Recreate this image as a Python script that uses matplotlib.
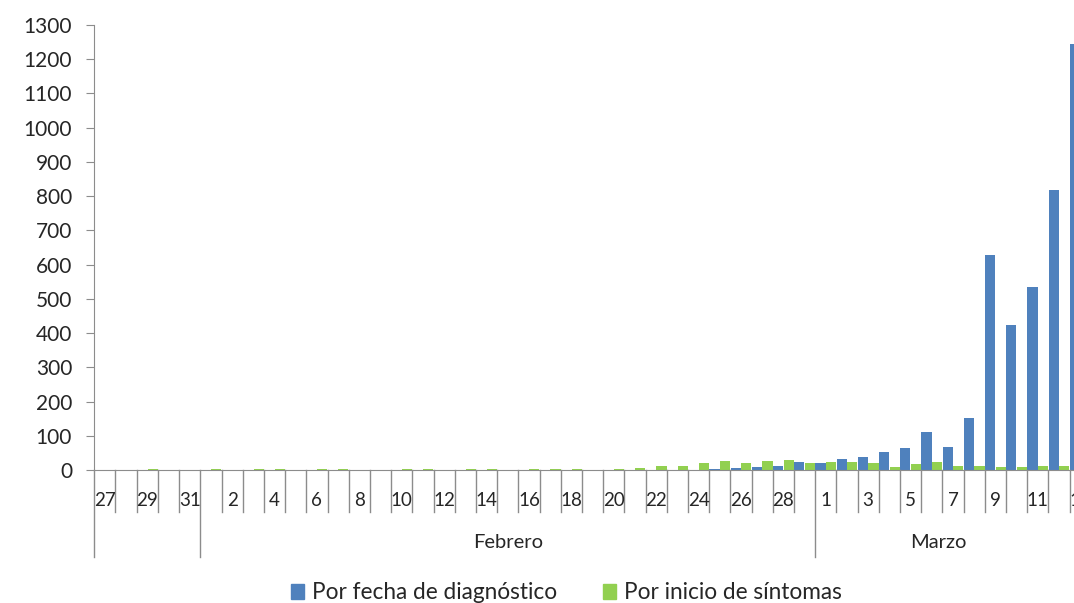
import matplotlib.pyplot as plt
import matplotlib.transforms as mtransforms
from matplotlib.patches import Patch

plt.rcParams['font.family'] = ['Lato', 'DejaVu Sans']

# days from 27 Jan to 13 Mar
dias = [27, 28, 29, 30, 31] + list(range(1, 30)) + list(range(1, 14))
meses = ['Febrero', 'Marzo']

diagnostico = [0, 0, 0, 0, 0,
               0, 0, 0, 0, 0, 0, 0, 0, 0, 0,
               0, 0, 0, 0, 0, 0, 0, 0, 0, 0,
               0, 0, 0, 1, 3, 5, 10, 12, 22,
               20, 31, 39, 52, 65, 112, 68, 151, 628, 424, 535, 818, 1246]
sintomas = [0, 0, 2, 1, 0,
            2, 0, 2, 2, 0, 2, 2, 0, 0, 2,
            2, 0, 2, 2, 0, 2, 2, 2, 0, 2,
            5, 11, 11, 19, 27, 19, 27, 28, 19,
            23, 22, 20, 10, 18, 23, 12, 12, 10, 10, 12, 12, 0]

azul = '#4f81bd'
verde = '#92d050'
gris = '#8c8c8c'
texto = '#262626'

fig = plt.figure(figsize=(10.74, 6.03), dpi=100)
ax = fig.add_axes([0.0878, 0.2206, 0.9122, 0.7379])

x = list(range(len(dias)))
ax.bar([i - 0.25 for i in x], diagnostico, width=0.48, color=azul)
ax.bar([i + 0.25 for i in x], sintomas, width=0.48, color=verde)

ax.set_xlim(-0.5, 45.71)
ax.set_ylim(0, 1300)
ax.set_yticks(range(0, 1301, 100))
ax.set_xticks([])

for s in ['top', 'right']:
    ax.spines[s].set_visible(False)
for s in ['left', 'bottom']:
    ax.spines[s].set_color(gris)
ax.tick_params(axis='y', colors=gris, length=6, pad=10, labelsize=15, labelcolor=texto)

# category axis drawn by hand: day labels, ticks and month separators
tr = mtransforms.blended_transform_factory(ax.transData, ax.transAxes)
for i, d in enumerate(dias):
    if i % 2 == 0:
        ax.text(i, -0.068, str(d), transform=tr, ha='center', va='center',
                fontsize=13.5, color=texto)

fin_ene = 4.5
fin_feb = 33.5
for b in [i + 0.5 for i in x[:-1]]:
    if b in (fin_ene, fin_feb):
        continue
    ax.plot([b, b], [0, -0.094], transform=tr, color=gris, lw=1, clip_on=False)
for b in [-0.5, fin_ene, fin_feb]:
    ax.plot([b, b], [0, -0.195], transform=tr, color=gris, lw=1, clip_on=False)

ax.text((fin_ene + fin_feb) / 2, -0.164, meses[0], transform=tr, ha='center',
        va='center', fontsize=14.5, color=texto)
ax.text(39.3, -0.164, meses[1], transform=tr, ha='center',
        va='center', fontsize=14.5, color=texto)

fig.legend([Patch(color=azul), Patch(color=verde)],
           ['Por fecha de diagnóstico', 'Por inicio de síntomas'],
           loc='center', bbox_to_anchor=(0.5275, 0.0166), ncol=2, frameon=False,
           fontsize=16.3, handlelength=0.6, handleheight=0.6,
           handletextpad=0.35, columnspacing=2.0, labelcolor=texto)

fig.savefig('out.png', dpi=100)
